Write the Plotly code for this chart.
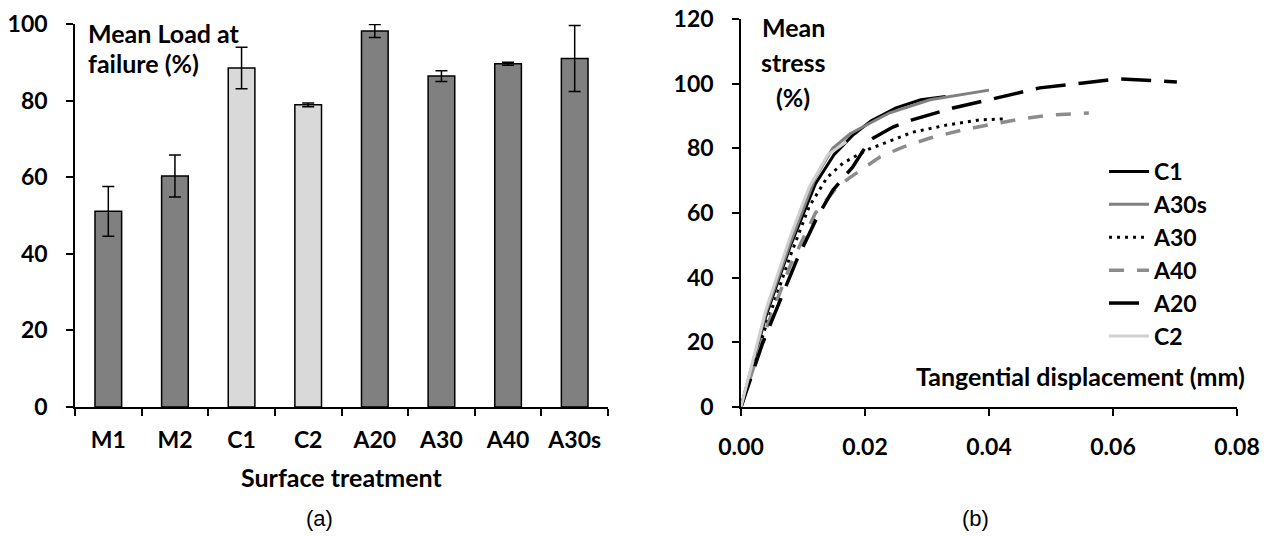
import plotly.graph_objects as go

# ---------------- data: panel (a) ----------------
categories = ["M1", "M2", "C1", "C2", "A20", "A30", "A40", "A30s"]
mean_load = [51.1, 60.3, 88.5, 78.9, 98.2, 86.4, 89.6, 91.0]
load_err = [6.5, 5.5, 5.4, 0.5, 1.7, 1.4, 0.4, 8.6]
bar_colors = ["#808080", "#808080", "#d9d9d9", "#d9d9d9",
              "#808080", "#808080", "#808080", "#808080"]

# ---------------- data: panel (b) ----------------
c1_x = [0, 0.004, 0.008, 0.012, 0.015, 0.018, 0.021, 0.025, 0.029, 0.033]
c1_y = [0, 28, 50, 69, 78, 84, 88.5, 92.5, 95, 96]

a30s_x = [0, 0.004, 0.008, 0.012, 0.0148, 0.0176, 0.021, 0.024, 0.0305, 0.035, 0.040]
a30s_y = [0, 29, 51, 71, 80, 84.5, 88, 91, 95, 96.5, 98]

a30_x = [0, 0.004, 0.008, 0.011, 0.0139, 0.0165, 0.0203, 0.0245, 0.0277, 0.0332, 0.0385, 0.0425]
a30_y = [0, 25, 47, 62, 71, 75.5, 79.5, 82.6, 85, 87.2, 88.8, 89.1]

a40_x = [0, 0.004, 0.008, 0.012, 0.0155, 0.0176, 0.0224, 0.0261, 0.0305, 0.0358, 0.0406, 0.045, 0.0498, 0.0561]
a40_y = [0, 24, 44, 60, 68, 71, 77.3, 80.4, 83.2, 85.7, 87.5, 89, 90.3, 90.9]

a20_x = [0, 0.0035, 0.009, 0.0123, 0.0148, 0.018, 0.0208, 0.0245, 0.0276, 0.0342, 0.0413, 0.0482, 0.0552, 0.061, 0.0703]
a20_y = [0, 19.8, 45.5, 58.8, 67, 74.2, 82.6, 86.6, 88.8, 92.5, 95.6, 98.7, 100.2, 101.5, 100.5]

c2_x = [0, 0.004, 0.008, 0.011, 0.014, 0.017]
c2_y = [0, 30, 53, 68, 78, 82]

W, H = 1268, 537
FONT = "Lato"
TICK = dict(family=FONT, size=23, color="black", weight="bold")
TXT = dict(family=FONT, size=25, color="black", weight="bold")
LEG = dict(family=FONT, size=23, color="black", weight="bold")


def px(x):
    return x / W


def py(y):
    return 1 - y / H


fig = go.Figure()

fig.add_trace(go.Bar(
    x=categories, y=mean_load,
    marker=dict(color=bar_colors, line=dict(color="black", width=1.5)),
    width=0.4,
    error_y=dict(type="data", array=load_err, color="black", thickness=1.5, width=6),
    xaxis="x", yaxis="y", showlegend=False,
))

series = [
    ("C1", c1_x, c1_y, dict(color="black", width=3, dash="solid")),
    ("A30s", a30s_x, a30s_y, dict(color="#808080", width=3, dash="solid")),
    ("A30", a30_x, a30_y, dict(color="black", width=3, dash="3px,5px")),
    ("A40", a40_x, a40_y, dict(color="#8c8c8c", width=3.5, dash="15px,13px")),
    ("A20", a20_x, a20_y, dict(color="black", width=3.5, dash="30px,13px")),
    ("C2", c2_x, c2_y, dict(color="#d0d0d0", width=3, dash="solid")),
]
for name, xs, ys, ln in series:
    fig.add_trace(go.Scatter(
        x=xs, y=ys, mode="lines", name=name, line=ln,
        xaxis="x2", yaxis="y2", legendgroup=name,
    ))

axis_common = dict(
    showline=True, linecolor="black", linewidth=1.5,
    ticks="outside", tickcolor="black", tickwidth=1.5, ticklen=7,
    showgrid=False, zeroline=False, tickfont=TICK, automargin=False,
)

fig.update_layout(
    width=W, height=H,
    margin=dict(l=0, r=0, t=0, b=0, pad=0, autoexpand=False),
    paper_bgcolor="white", plot_bgcolor="white",
    xaxis=dict(domain=[px(75), px(608)], type="category", range=[-0.5, 7.5],
               tickson="boundaries", ticklabelstandoff=12, anchor="y", **axis_common),
    yaxis=dict(domain=[py(407), py(24)], range=[0, 100], tickvals=[0, 20, 40, 60, 80, 100],
               ticklabelstandoff=14, anchor="x", **axis_common),
    xaxis2=dict(domain=[px(741), px(1237)], range=[0, 0.08], tickvals=[0, 0.02, 0.04, 0.06, 0.08],
                tickformat=".2f", ticklabelstandoff=12, anchor="y2", **axis_common),
    yaxis2=dict(domain=[py(407), py(19)], range=[0, 120], tickvals=[0, 20, 40, 60, 80, 100, 120],
                ticklabelstandoff=14, anchor="x2", **axis_common),
    legend=dict(x=px(1104), y=py(150), xanchor="left", yanchor="top",
                font=LEG, bgcolor="rgba(0,0,0,0)", traceorder="grouped",
                tracegroupgap=0, itemwidth=40),
    showlegend=True,
)

ann = [
    dict(text="Mean Load at", x=px(86), y=py(33)),
    dict(text="failure (%)", x=px(86), y=py(63)),
]
for a in ann:
    fig.add_annotation(text=a["text"], x=a["x"], y=a["y"], xref="paper", yref="paper",
                       xanchor="left", yanchor="middle", showarrow=False, font=TXT)

for t, yy in [("Mean", 27), ("stress", 62), ("(%)", 97)]:
    fig.add_annotation(text=t, x=px(793), y=py(yy), xref="paper", yref="paper",
                       xanchor="center", yanchor="middle", showarrow=False, font=TXT)

fig.add_annotation(text="Surface treatment", x=px(341), y=py(477), xref="paper", yref="paper",
                   xanchor="center", yanchor="middle", showarrow=False, font=TXT)
fig.add_annotation(text="Tangential displacement (mm)", x=px(1247), y=py(376), xref="paper",
                   yref="paper", xanchor="right", yanchor="middle", showarrow=False, font=TXT)

LAB = dict(family="Liberation Sans", size=22, color="black")
fig.add_annotation(text="(a)", x=px(319), y=py(518), xref="paper", yref="paper",
                   xanchor="center", yanchor="middle", showarrow=False, font=LAB)
fig.add_annotation(text="(b)", x=px(975), y=py(518), xref="paper", yref="paper",
                   xanchor="center", yanchor="middle", showarrow=False, font=LAB)

fig.write_html("out.html")
